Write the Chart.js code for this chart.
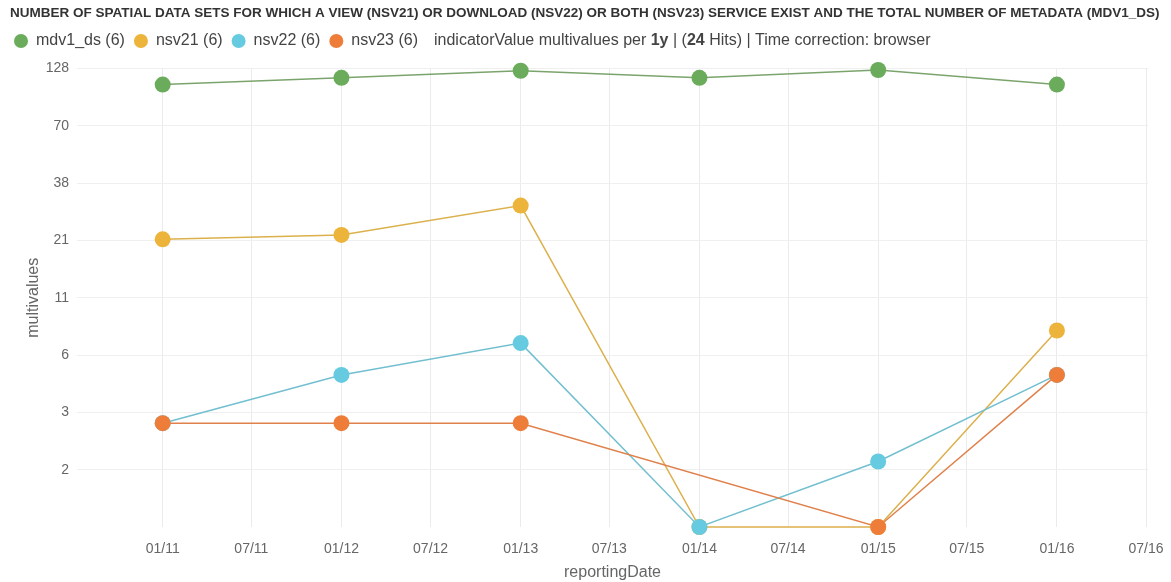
<!DOCTYPE html>
<html>
<head>
<meta charset="utf-8">
<script src="https://cdn.jsdelivr.net/npm/chart.js@4/dist/chart.umd.min.js"></script>
<style>
  html, body { margin: 0; padding: 0; background: #fff; }
  #wrap { width: 1171px; height: 582px; position: relative; }
</style>
</head>
<body>
<div id="wrap"><canvas id="chart"></canvas></div>
<script>
// reporting dates (one value per year)
const reportingDates = ['2011-01-01', '2012-01-01', '2013-01-01', '2014-01-01', '2015-01-01', '2016-01-01'];
const mdv1_ds = [108, 116, 125, 116, 126, 108];
const nsv21 = [21, 22, 30, 1, 1, 8];
const nsv22 = [3, 5, 7, 1, 2, 5];
const nsv23 = [3, 3, 3, null, 1, 5];

const seriesNames = ['mdv1_ds', 'nsv21', 'nsv22', 'nsv23'];
const seriesValues = [mdv1_ds, nsv21, nsv22, nsv23];
const seriesColors = ['#6aac5c', '#ecb43a', '#66cbe0', '#ee7d3a'];
const lineColors = ['#7ba46d', '#dcb04c', '#72bfd0', '#e0814c'];

// axis ticks
const xTickDates = ['2011-01-01', '2011-07-01', '2012-01-01', '2012-07-01', '2013-01-01', '2013-07-01',
                    '2014-01-01', '2014-07-01', '2015-01-01', '2015-07-01', '2016-01-01', '2016-07-01'];
const yTickLabels = [2, 3, 6, 11, 21, 38, 70, 128];

const title = 'NUMBER OF SPATIAL DATA SETS FOR WHICH A VIEW (NSV21) OR DOWNLOAD (NSV22) OR BOTH (NSV23) SERVICE EXIST AND THE TOTAL NUMBER OF METADATA (MDV1_DS)';
const noteParts = [['indicatorValue multivalues per ', false], ['1y', true], [' | (', false], ['24', true], [' Hits) | Time correction: browser', false]];

const DAY = 86400000;
const FONT = '"Liberation Sans", Arial, sans-serif';
const yMax = 128;

const toTime = d => Date.parse(d + 'T00:00:00Z');

// title line and the text after the legend items
const header = {
    id: 'header',
    beforeLayout(chart) {
        const lg = chart.legend;
        if (lg && !lg._padFit) {
            const fit = lg.fit;
            lg.fit = function () { fit.call(this); this.height += 9.5; };
            lg._padFit = true;
        }
    },
    afterDraw(chart) {
        const ctx = chart.ctx;
        ctx.save();
        ctx.textBaseline = 'middle';
        ctx.fillStyle = '#333';
        ctx.font = 'bold 13.5px ' + FONT;
        ctx.fillText(title, 10, 13);

        const boxes = chart.legend.legendHitBoxes;
        const last = boxes[boxes.length - 1];
        let x = last.left + last.width + 16;
        const y = last.top + last.height / 2;
        ctx.fillStyle = '#444';
        noteParts.forEach(([t, bold]) => {
            ctx.font = (bold ? 'bold ' : '') + '16px ' + FONT;
            ctx.fillText(t, x, y);
            x += ctx.measureText(t).width;
        });
        ctx.restore();
    }
};

const datasets = seriesNames.map((name, i) => ({
    label: name + ' (' + seriesValues[i].length + ')',
    data: seriesValues[i].map((v, j) => ({ x: toTime(reportingDates[j]), y: v })),
    borderColor: lineColors[i],
    backgroundColor: seriesColors[i],
    pointBackgroundColor: seriesColors[i],
    pointBorderWidth: 0,
    pointRadius: 8,
    pointHoverRadius: 8,
    borderWidth: 1.5,
    tension: 0,
    spanGaps: true,
    clip: false,
    order: seriesNames.length - 1 - i
}));

new Chart(document.getElementById('chart'), {
    type: 'line',
    data: { datasets },
    plugins: [header],
    options: {
        responsive: true,
        maintainAspectRatio: false,
        animation: false,
        layout: { padding: { left: 5, right: 23, top: 24, bottom: 0 } },
        plugins: {
            title: { display: false },
            legend: {
                position: 'top',
                align: 'start',
                labels: {
                    usePointStyle: true,
                    pointStyle: 'circle',
                    boxHeight: 10,
                    pointStyleWidth: 14,
                    padding: 9,
                    color: '#444',
                    font: { family: FONT, size: 16 },
                    sort: (a, b) => a.datasetIndex - b.datasetIndex
                }
            },
            tooltip: { enabled: false }
        },
        scales: {
            x: {
                type: 'linear',
                min: toTime(reportingDates[0]) - 175 * DAY,
                max: toTime(reportingDates[reportingDates.length - 1]) + 186 * DAY,
                afterBuildTicks: scale => {
                    scale.ticks = xTickDates.map(d => ({ value: toTime(d) }));
                },
                afterFit: scale => {
                    scale.height = 55;
                    scale.paddingLeft = 0;
                    scale.paddingRight = 0;
                },
                grid: { color: '#ebebeb', drawTicks: false },
                border: { display: false },
                ticks: {
                    autoSkip: false,
                    maxRotation: 0,
                    padding: 14,
                    color: '#666',
                    font: { family: FONT, size: 14 },
                    callback: v => {
                        const d = new Date(v);
                        const m = String(d.getUTCMonth() + 1).padStart(2, '0');
                        const y = String(d.getUTCFullYear() % 100).padStart(2, '0');
                        return m + '/' + y;
                    }
                },
                title: {
                    display: true,
                    text: 'reportingDate',
                    color: '#666',
                    font: { family: FONT, size: 16 },
                    padding: { top: 0, bottom: 0 }
                }
            },
            y: {
                type: 'logarithmic',
                min: 1,
                max: yMax,
                afterBuildTicks: scale => {
                    scale.ticks = yTickLabels.map((lbl, k) => ({ value: Math.pow(yMax, (k + 1) / yTickLabels.length) }));
                },
                afterFit: scale => { scale.width = 72; },
                grid: { color: '#efefef', drawTicks: false },
                border: { display: false },
                ticks: {
                    autoSkip: false,
                    padding: 8,
                    color: '#666',
                    font: { family: FONT, size: 14 },
                    callback: function (v, i) { return yTickLabels[i]; }
                },
                title: {
                    display: true,
                    text: 'multivalues',
                    color: '#666',
                    font: { family: FONT, size: 16 },
                    padding: { top: 19, bottom: 0 }
                }
            }
        }
    }
});
</script>
</body>
</html>
